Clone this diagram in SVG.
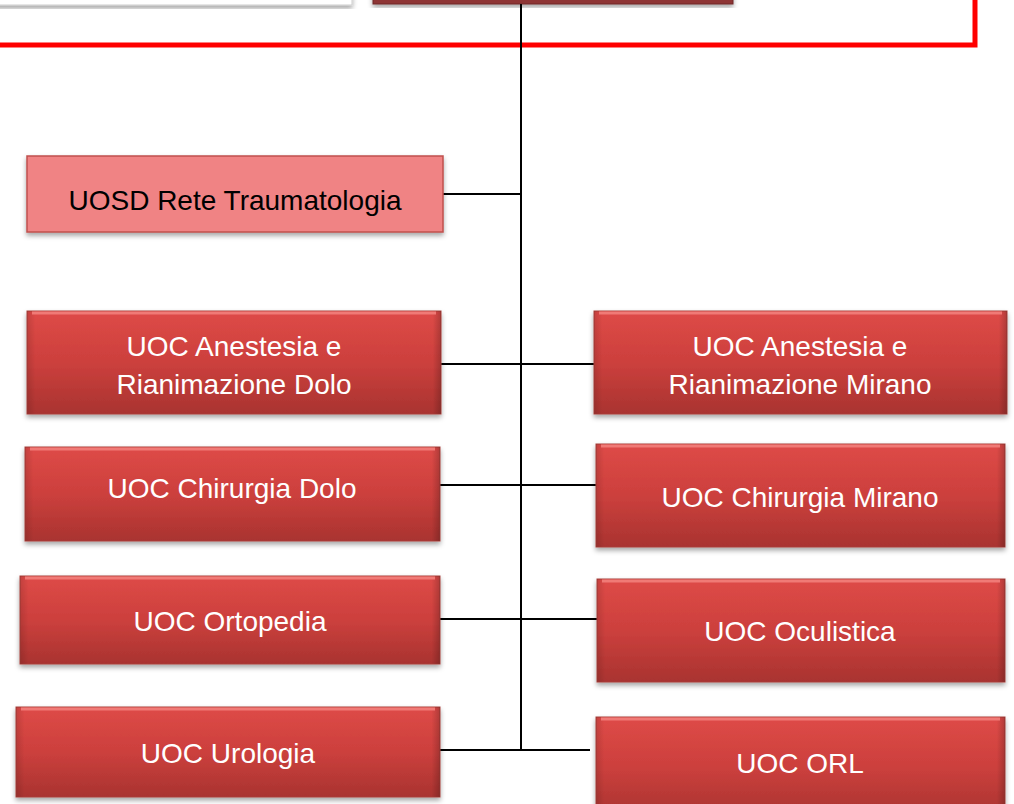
<svg xmlns="http://www.w3.org/2000/svg" width="1014" height="804" viewBox="0 0 1014 804">
<defs>
<linearGradient id="red" x1="0" y1="0" x2="0" y2="1">
<stop offset="0" stop-color="#DE4A47"/>
<stop offset="0.5" stop-color="#CC403D"/>
<stop offset="1" stop-color="#A93330"/>
</linearGradient>
<linearGradient id="bev" x1="0" y1="0" x2="1" y2="0">
<stop offset="0" stop-color="#000" stop-opacity="0.12"/>
<stop offset="0.02" stop-color="#000" stop-opacity="0"/>
<stop offset="0.98" stop-color="#000" stop-opacity="0"/>
<stop offset="1" stop-color="#000" stop-opacity="0.2"/>
</linearGradient>
<filter id="sh" x="-5%" y="-10%" width="110%" height="125%">
<feDropShadow dx="0" dy="3" stdDeviation="2.5" flood-color="#000" flood-opacity="0.35"/>
</filter>
</defs>
<style>
.n{fill:url(#red);stroke:#A8403D;stroke-width:1}
.b{fill:url(#bev)}
.hl{fill:none;stroke:#F07A76;stroke-width:3}
.t{font-family:"Liberation Sans",Arial,sans-serif;font-size:28px;fill:#fff;text-anchor:middle}
.k{fill:#000}
.c{stroke:#000;stroke-width:2;fill:none}
</style>
<g id="top-white">
<rect x="-10" y="-20" width="362" height="25" fill="#fff" stroke="#ccc" filter="url(#sh)"/>
</g>
<g id="top-red">
<rect x="373" y="-20" width="360" height="24" fill="#8E3535" stroke="#6E2828" filter="url(#sh)"/>
</g>
<g id="frame">
<polyline points="-5,45 975,45 975,-5" fill="none" stroke="#FF0000" stroke-width="5"/>
</g>
<g id="connectors">
<line class="c" x1="521" y1="4" x2="521" y2="751"/>
<line class="c" x1="443" y1="194" x2="521" y2="194"/>
<line class="c" x1="441" y1="364" x2="595" y2="364"/>
<line class="c" x1="440" y1="485" x2="597" y2="485"/>
<line class="c" x1="440" y1="619" x2="597" y2="619"/>
<line class="c" x1="440" y1="750" x2="590" y2="750"/>
</g>
<g id="uosd-rete-traumatologia">
<rect x="27" y="156" width="416" height="76" fill="#F08384" stroke="#C0504D" stroke-width="1.5" filter="url(#sh)"/>
<text class="t k" x="235" y="210">UOSD Rete Traumatologia</text>
</g>
<g id="uoc-anestesia-dolo">
<rect class="n" x="27" y="311" width="414" height="103" filter="url(#sh)"/>
<rect class="b" x="27" y="311" width="414" height="103"/>
<line class="hl" x1="32" y1="313" x2="436" y2="313"/>
<text class="t" x="234" y="356">UOC Anestesia e</text>
<text class="t" x="234" y="394">Rianimazione Dolo</text>
</g>
<g id="uoc-anestesia-mirano">
<rect class="n" x="594" y="311" width="413" height="103" filter="url(#sh)"/>
<rect class="b" x="594" y="311" width="413" height="103"/>
<line class="hl" x1="599" y1="313" x2="1002" y2="313"/>
<text class="t" x="800" y="356">UOC Anestesia e</text>
<text class="t" x="800" y="394">Rianimazione Mirano</text>
</g>
<g id="uoc-chirurgia-dolo">
<rect class="n" x="25" y="447" width="415" height="94" filter="url(#sh)"/>
<rect class="b" x="25" y="447" width="415" height="94"/>
<line class="hl" x1="30" y1="449" x2="435" y2="449"/>
<text class="t" x="232" y="498">UOC Chirurgia Dolo</text>
</g>
<g id="uoc-chirurgia-mirano">
<rect class="n" x="596" y="444" width="409" height="103" filter="url(#sh)"/>
<rect class="b" x="596" y="444" width="409" height="103"/>
<line class="hl" x1="601" y1="446" x2="1000" y2="446"/>
<text class="t" x="800" y="507">UOC Chirurgia Mirano</text>
</g>
<g id="uoc-ortopedia">
<rect class="n" x="20" y="576" width="420" height="88" filter="url(#sh)"/>
<rect class="b" x="20" y="576" width="420" height="88"/>
<line class="hl" x1="25" y1="578" x2="435" y2="578"/>
<text class="t" x="230" y="631">UOC Ortopedia</text>
</g>
<g id="uoc-oculistica">
<rect class="n" x="597" y="579" width="408" height="103" filter="url(#sh)"/>
<rect class="b" x="597" y="579" width="408" height="103"/>
<line class="hl" x1="602" y1="581" x2="1000" y2="581"/>
<text class="t" x="800" y="641">UOC Oculistica</text>
</g>
<g id="uoc-urologia">
<rect class="n" x="16" y="707" width="424" height="90" filter="url(#sh)"/>
<rect class="b" x="16" y="707" width="424" height="90"/>
<line class="hl" x1="21" y1="709" x2="435" y2="709"/>
<text class="t" x="228" y="763">UOC Urologia</text>
</g>
<g id="uoc-orl">
<rect class="n" x="596" y="717" width="409" height="100" filter="url(#sh)"/>
<rect class="b" x="596" y="717" width="409" height="100"/>
<line class="hl" x1="601" y1="719" x2="1000" y2="719"/>
<text class="t" x="800" y="773">UOC ORL</text>
</g>
</svg>
